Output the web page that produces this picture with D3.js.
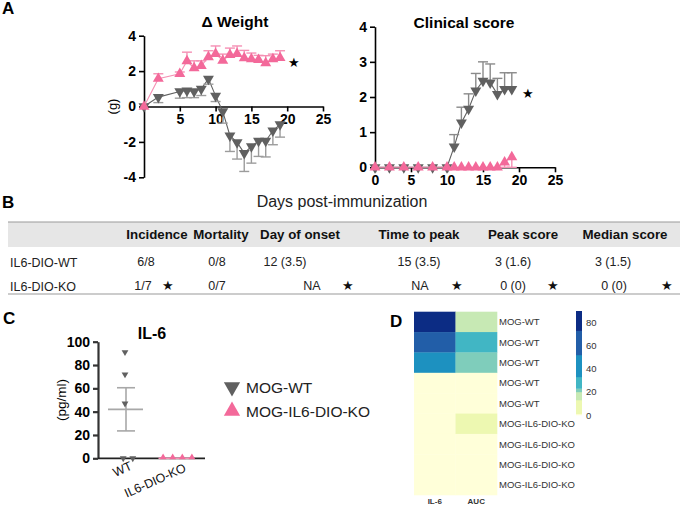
<!DOCTYPE html>
<html><head><meta charset="utf-8">
<script src="https://cdn.jsdelivr.net/npm/d3@7"></script>
<style>body{margin:0;background:#fff} svg{display:block;font-family:Arial,"Liberation Sans",sans-serif}</style>
</head><body><svg id="c" width="685" height="505"></svg>
<script>
// ---------- DATA ----------
const weightDays = [0,2,5,6,7,8,9,10,11,12,13,14,15,16,17,18,19];
const weightWT    = [0,0.53,0.85,0.9,0.85,1.0,1.56,0.6,-0.28,-1.65,-2.03,-2.63,-2.25,-1.95,-1.95,-1.37,-1.01];
const weightWTsem = [0,0.31,0.38,0.4,0.35,0.38,0.3,0.32,0.66,0.89,0.94,1.04,0.95,0.87,0.9,0.79,0.72];
const weightKO    = [0,1.57,1.85,2.57,2.17,2.3,2.79,2.98,2.6,2.92,2.98,2.74,2.68,2.64,2.45,2.68,2.75];
const weightKOsem = [0,0.28,0.1,0.5,0.41,0.28,0.36,0.44,0.36,0.38,0.44,0.43,0.34,0.25,0.42,0.28,0.4];

const clinDays  = [0,2,4,6,8,10,11,12,13,14,15,16,17,18,19];
const clinWT    = [0,0,0,0,0,0,0.59,1.27,1.66,2.18,2.46,2.41,2.08,2.22,2.22];
const clinWTsem = [0,0,0,0,0,0,0.34,0.44,0.43,0.49,0.54,0.53,0.45,0.47,0.47];
const clinKO    = [0,0,0,0,0,0,0,0,0,0,0,0,0,0.14,0.29];
const clinKOsem = [0,0,0,0,0,0,0,0,0,0,0,0,0,0.14,0.29];
const sigWeight = {day:21, value:2.5};
const sigClin = {day:21.2, value:2.12};

const tableHeaders = ['Incidence','Mortality','Day of onset','Time to peak','Peak score','Median score'];
const tableRowLabels = ['IL6-DIO-WT','IL6-DIO-KO'];
const tableWT = ['6/8','0/8','12 (3.5)','15 (3.5)','3 (1.6)','3 (1.5)'];
const tableKO = ['1/7','0/7','NA','NA','0 (0)','0 (0)'];
const tableKOsig = [true,false,true,true,true,true];

const il6Groups = ['WT','IL6-DIO-KO'];
const il6WT = [91,72,47,0,0];
const il6KO = [0,0,0,0];
const legendLabels = ['MOG-WT','MOG-IL6-DIO-KO'];

const heatRows = ['MOG-WT','MOG-WT','MOG-WT','MOG-WT','MOG-WT','MOG-IL6-DIO-KO','MOG-IL6-DIO-KO','MOG-IL6-DIO-KO','MOG-IL6-DIO-KO'];
const heatCols = ['IL-6','AUC'];
const heatIL6 = [91,72,47,0,0,0,0,0,0];
const heatAUC = [17,28,22,0,0,5,0,0,0];
const colorTicks = [0,20,40,60,80];

// ---------- STYLE ----------
const PINK='#f3699a', PINK_L='#f590b4', GRAY='#606060', GRAY_L='#9c9c9c';
const svg = d3.select('#c');
const fmt = d => String(d);

function tri(size){ return d3.symbol().type(d3.symbolTriangle).size(size); }

function panelLabel(t,x,y){ svg.append('text').attr('x',x).attr('y',y).attr('font-size',17).attr('font-weight','bold').text(t); }
panelLabel('A',2,14); panelLabel('B',2,208); panelLabel('C',3,324); panelLabel('D',390,327);

function styleAxis(g, fs){
  g.selectAll('path.domain').attr('stroke','#000').attr('stroke-width',1.6);
  g.selectAll('.tick line').attr('stroke','#000').attr('stroke-width',1.6);
  g.selectAll('.tick text').attr('font-size',fs).attr('font-weight','bold').attr('fill','#000').attr('font-family','Arial, Liberation Sans, sans-serif');
}

function drawSeries(g, x, y, days, vals, sems, color, lineColor, barColor, down, dir){
  const line = d3.line().x((d,i)=>x(days[i])).y(d=>y(d));
  g.append('path').datum(vals).attr('d',line).attr('fill','none').attr('stroke',lineColor).attr('stroke-width',1.1);
  vals.forEach((v,i)=>{
    if(sems[i]<=0) return;
    const e = v + dir*sems[i];
    g.append('line').attr('x1',x(days[i])).attr('x2',x(days[i])).attr('y1',y(v)).attr('y2',y(e)).attr('stroke',barColor).attr('stroke-width',1.4);
    g.append('line').attr('x1',x(days[i])-5).attr('x2',x(days[i])+5).attr('y1',y(e)).attr('y2',y(e)).attr('stroke',barColor).attr('stroke-width',1.4);
  });
  vals.forEach((v,i)=>{
    g.append('path').attr('d',tri(52)()).attr('fill',color)
     .attr('transform',`translate(${x(days[i])},${y(v)})${down?' rotate(180)':''}`);
  });
}

// ---------- A: Weight ----------
{
  const x = d3.scaleLinear().domain([0,25]).range([144,323]);
  const y = d3.scaleLinear().domain([-4,4]).range([177.3,35.7]);
  const g = svg.append('g');
  const ya = g.append('g').attr('transform','translate(144,0)').call(d3.axisLeft(y).tickValues([-4,-2,0,2,4]).tickFormat(fmt).tickSize(5).tickSizeOuter(0));
  styleAxis(ya,14);
  const xa = g.append('g').attr('transform',`translate(0,${y(0)})`).call(d3.axisBottom(x).tickValues([5,10,15,20,25]).tickFormat(fmt).tickSize(5).tickSizeOuter(0));
  styleAxis(xa,14);
  drawSeries(g,x,y,weightDays,weightWT,weightWTsem,GRAY,GRAY,GRAY_L,true,-1);
  drawSeries(g,x,y,weightDays,weightKO,weightKOsem,PINK,PINK_L,PINK_L,false,1);
  g.append('text').attr('x',x(sigWeight.day)).attr('y',y(sigWeight.value)+5).attr('text-anchor','middle').attr('font-size',13).text('★');
  svg.append('text').attr('x',235).attr('y',27).attr('text-anchor','middle').attr('font-size',15.5).attr('font-weight','bold').text('Δ Weight');
  svg.append('text').attr('transform',`translate(117,${y(0)}) rotate(-90)`).attr('text-anchor','middle').attr('font-size',13).text('(g)');
}

// ---------- A: Clinical score ----------
{
  const x = d3.scaleLinear().domain([0,25]).range([375,555]);
  const y = d3.scaleLinear().domain([0,4]).range([167.3,26.7]);
  const g = svg.append('g');
  const ya = g.append('g').attr('transform','translate(375,0)').call(d3.axisLeft(y).ticks(4).tickFormat(fmt).tickSize(5).tickSizeOuter(0));
  styleAxis(ya,14);
  const xa = g.append('g').attr('transform',`translate(0,${y(0)})`).call(d3.axisBottom(x).tickValues([0,5,10,15,20,25]).tickFormat(fmt).tickSize(5).tickSizeOuter(0));
  styleAxis(xa,14);
  drawSeries(g,x,y,clinDays,clinWT,clinWTsem,GRAY,GRAY,'#8a8a8a',true,1);
  drawSeries(g,x,y,clinDays,clinKO,clinKOsem,PINK,PINK_L,PINK_L,false,-1);
  g.append('text').attr('x',x(sigClin.day)).attr('y',y(sigClin.value)+5).attr('text-anchor','middle').attr('font-size',13).text('★');
  svg.append('text').attr('x',464).attr('y',28).attr('text-anchor','middle').attr('font-size',15.5).attr('font-weight','bold').text('Clinical score');
}
svg.append('text').attr('x',342).attr('y',207).attr('text-anchor','middle').attr('font-size',16).attr('fill','#222').text('Days post-immunization');

// ---------- B: Table ----------
{
  const headX = [157,221,300,419,523,625];
  const wtX = [146,217,285,419,513,613];
  const koX = [143,217,312,420,513,614];
  const starX = [168,null,348,457,553,667];
  svg.append('rect').attr('x',8).attr('y',222).attr('width',672).attr('height',25).attr('fill','#e6e6e6');
  svg.append('line').attr('x1',8).attr('x2',680).attr('y1',222).attr('y2',222).attr('stroke','#9a9a9a').attr('stroke-width',1.2);
  svg.append('line').attr('x1',8).attr('x2',680).attr('y1',294).attr('y2',294).attr('stroke','#9a9a9a').attr('stroke-width',1.2);
  tableHeaders.forEach((h,i)=>svg.append('text').attr('x',headX[i]).attr('y',239).attr('text-anchor','middle').attr('font-size',13.3).attr('font-weight','bold').attr('fill','#111').text(h));
  tableRowLabels.forEach((r,i)=>svg.append('text').attr('x',10).attr('y',267+i*24).attr('font-size',12.5).attr('fill','#222').text(r));
  tableWT.forEach((v,i)=>svg.append('text').attr('x',wtX[i]).attr('y',266).attr('text-anchor','middle').attr('font-size',12.5).attr('fill','#222').text(v));
  tableKO.forEach((v,i)=>{
    svg.append('text').attr('x',koX[i]).attr('y',290).attr('text-anchor','middle').attr('font-size',12.5).attr('fill','#222').text(v);
    if(tableKOsig[i]) svg.append('text').attr('x',starX[i]).attr('y',290).attr('text-anchor','middle').attr('font-size',12.5).attr('fill','#111').text('★');
  });
}

// ---------- C: IL-6 ----------
{
  const y = d3.scaleLinear().domain([0,100]).range([458.3,341.7]);
  const x = d3.scalePoint().domain(il6Groups).range([127,177.5]);
  const g = svg.append('g');
  const ya = g.append('g').attr('transform','translate(98,0)').call(d3.axisLeft(y).ticks(5).tickFormat(fmt).tickSize(5).tickSizeOuter(0));
  styleAxis(ya,14);
  ya.selectAll('path.domain, .tick line').attr('stroke','#333').attr('stroke-width',2.2);
  g.append('line').attr('x1',98).attr('x2',205).attr('y1',y(0)).attr('y2',y(0)).attr('stroke','#222').attr('stroke-width',1.8);
  const groups = [il6WT, il6KO];
  const cols = [GRAY, PINK];
  groups.forEach((vals,gi)=>{
    const cx = x(il6Groups[gi]);
    const mean = d3.mean(vals);
    const sem = vals.length>1 ? d3.deviation(vals)/Math.sqrt(vals.length) : 0;
    const lc = gi===0 ? '#a8a8a8' : PINK_L;
    g.append('line').attr('x1',cx-19).attr('x2',cx+16).attr('y1',y(mean)).attr('y2',y(mean)).attr('stroke',lc).attr('stroke-width',1.6);
    if(sem>0){
      g.append('line').attr('x1',cx-1).attr('x2',cx-1).attr('y1',y(mean-sem)).attr('y2',y(mean+sem)).attr('stroke',lc).attr('stroke-width',1.6);
      [mean-sem,mean+sem].forEach(v=>g.append('line').attr('x1',cx-10).attr('x2',cx+8).attr('y1',y(v)).attr('y2',y(v)).attr('stroke',lc).attr('stroke-width',1.6));
    }
    const counts = d3.rollup(vals, v=>v.length, d=>d);
    const seen = new Map();
    vals.forEach(v=>{
      const n = counts.get(v); const k = seen.get(v)||0; seen.set(v,k+1);
      const off = n>1 ? (k-(n-1)/2)*9.6 + (gi===0?1:0) : -2;
      g.append('path').attr('d',tri(20)()).attr('fill',cols[gi])
       .attr('transform',`translate(${cx+off},${y(v)-(gi===0?0:1)})${gi===0?' rotate(180)':''}`);
    });
  });
  [[133,469],[187,471]].forEach((p,i)=>svg.append('text').attr('transform',`translate(${p[0]},${p[1]}) rotate(-24)`).attr('text-anchor','end').attr('font-size',12.5).attr('fill','#111').text(il6Groups[i]));
  svg.append('text').attr('x',152).attr('y',339).attr('text-anchor','middle').attr('font-size',16).attr('font-weight','bold').text('IL-6');
  svg.append('text').attr('transform',`translate(66,${y(50)}) rotate(-90)`).attr('text-anchor','middle').attr('font-size',13.5).text('(pg/ml)');
  legendLabels.forEach((l,i)=>{
    const yy = 387 + i*24;
    svg.append('path').attr('d',tri(115)()).attr('fill',cols[i]).attr('transform',`translate(232,${yy})${i===0?' rotate(180)':''}`);
    svg.append('text').attr('x',246).attr('y',yy+6).attr('font-size',15.5).attr('fill','#222').text(l);
  });
}

// ---------- D: Heatmap ----------
{
  const color = d3.scaleThreshold().domain([1,13,20,23,33,52,73])
    .range(['#ffffd9','#edf8b1','#c7e9b4','#7fcdbb','#41b6c4','#1d91c0','#225ea8','#0c2c84']);
  const x = d3.scaleBand().domain(heatCols).range([414,497]);
  const y = d3.scaleBand().domain(d3.range(heatRows.length)).range([311.7,495]);
  const colVals = [heatIL6, heatAUC];
  heatCols.forEach((c,ci)=>{
    colVals[ci].forEach((v,ri)=>{
      svg.append('rect').attr('x',x(c)).attr('y',y(ri)).attr('width',x.bandwidth()+0.3).attr('height',y.bandwidth()+0.3).attr('fill',color(v));
    });
    svg.append('text').attr('x',x(c)+x.bandwidth()/2).attr('y',504).attr('text-anchor','middle').attr('font-size',8).attr('font-weight','bold').attr('fill','#333').text(c);
  });
  heatRows.forEach((r,i)=>svg.append('text').attr('x',499).attr('y',y(i)+y.bandwidth()/2+3.5).attr('font-size',9.5).attr('fill','#333').text(r));
  const cy = d3.scaleLinear().domain([0,90]).range([415,311]);
  const edges = [0].concat(color.domain()).concat([90]);
  for(let i=0;i<edges.length-1;i++){
    svg.append('rect').attr('x',576).attr('y',cy(edges[i+1])).attr('width',6).attr('height',cy(edges[i])-cy(edges[i+1])+0.3).attr('fill',color(edges[i]+0.01));
  }
  colorTicks.forEach(t=>svg.append('text').attr('x',586).attr('y',cy(t)+3.5).attr('font-size',9.5).attr('fill','#333').text(t));
}
</script></body></html>
